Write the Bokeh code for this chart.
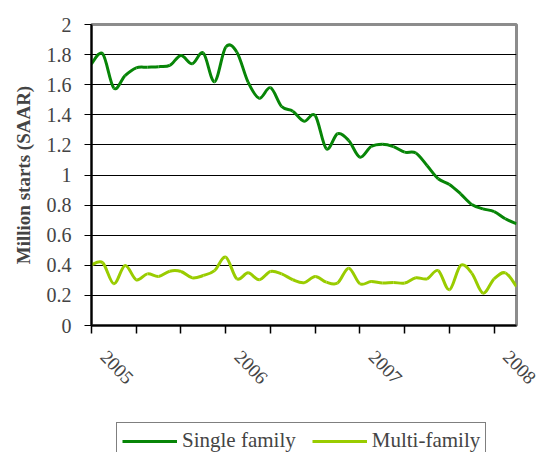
import numpy as np
from bokeh.plotting import figure
from bokeh.layouts import column
from bokeh.models import FixedTicker, Legend, LegendItem, NumeralTickFormatter, LinearAxis
from bokeh.embed import file_html
from bokeh.resources import INLINE

# Monthly index: 0 = Jan 2005 ... 38 = Mar 2008
months = list(range(39))
single_family = [1.739, 1.805, 1.577, 1.66, 1.712, 1.716, 1.72, 1.728, 1.794, 1.739,
                 1.81, 1.62, 1.85, 1.816, 1.617, 1.51, 1.58, 1.455, 1.424, 1.357,
                 1.395, 1.174, 1.274, 1.229, 1.118, 1.189, 1.205, 1.189, 1.152, 1.146,
                 1.063, 0.975, 0.937, 0.875, 0.804, 0.775, 0.757, 0.709, 0.676]
multi_family = [0.403, 0.417, 0.277, 0.399, 0.304, 0.343, 0.326, 0.361, 0.359, 0.317,
                0.332, 0.365, 0.454, 0.31, 0.35, 0.304, 0.359, 0.343, 0.304, 0.284,
                0.326, 0.288, 0.282, 0.381, 0.277, 0.292, 0.282, 0.286, 0.282, 0.317,
                0.31, 0.365, 0.237, 0.399, 0.348, 0.215, 0.31, 0.35, 0.259]
x_ticks = [0, 4, 8, 12, 16, 20, 24, 28, 32, 36]
year_ticks = [0, 12, 24, 36]
year_labels = ["2005", "2006", "2007", "2008"]
y_ticks = [0, 0.2, 0.4, 0.6, 0.8, 1, 1.2, 1.4, 1.6, 1.8, 2]
series_names = ["Single family", "Multi-family"]
series_colors = ["#078507", "#99cc00"]

LABEL_SHIFT = 1.1  # year labels sit slightly right of their tick (in months)


def smooth_segments(x, y, t=1.0 / 6.0):
    x = np.asarray(x, float)
    y = np.asarray(y, float)
    n = len(x)
    xp = np.concatenate([[x[0]], x, [x[-1]]])
    yp = np.concatenate([[y[0]], y, [y[-1]]])
    cx0 = x[:-1] + (xp[2:n + 1] - xp[0:n - 1]) * t
    cy0 = y[:-1] + (yp[2:n + 1] - yp[0:n - 1]) * t
    cx1 = x[1:] - (xp[3:n + 2] - xp[1:n]) * t
    cy1 = y[1:] - (yp[3:n + 2] - yp[1:n]) * t
    return dict(x0=x[:-1], y0=y[:-1], x1=x[1:], y1=y[1:],
                cx0=cx0, cy0=cy0, cx1=cx1, cy1=cy1)


FONT = "Liberation Serif"

p = figure(width=540, height=422, output_backend="svg", toolbar_location=None, title=None,
           x_range=(0, 38), y_range=(0, 2),
           min_border_left=91, min_border_right=24, min_border_top=24, min_border_bottom=97)

for vals, col in zip([single_family, multi_family], series_colors):
    p.bezier(source=smooth_segments(months, vals), x0="x0", y0="y0", x1="x1", y1="y1",
             cx0="cx0", cy0="cy0", cx1="cx1", cy1="cy1", line_color=col, line_width=3)

p.xgrid.visible = False
p.ygrid.ticker = FixedTicker(ticks=y_ticks)
p.ygrid.grid_line_color = "black"
p.ygrid.grid_line_width = 1

p.outline_line_color = "#8c8c8c"
p.outline_line_width = 3

# y axis
p.yaxis.ticker = FixedTicker(ticks=y_ticks)
p.yaxis.formatter = NumeralTickFormatter(format="0.[0]")
p.yaxis.axis_label = "Million starts (SAAR)"
p.yaxis.axis_label_text_font = FONT
p.yaxis.axis_label_text_font_style = "bold"
p.yaxis.axis_label_text_font_size = "19px"
p.yaxis.axis_label_standoff = 10
p.yaxis.major_label_text_font = FONT
p.yaxis.major_label_text_font_size = "20px"
p.yaxis.major_label_standoff = 13
p.yaxis.major_tick_out = 7
p.yaxis.major_tick_in = 0
p.yaxis.minor_tick_out = 0
p.yaxis.minor_tick_in = 0
p.yaxis.axis_line_width = 2
p.yaxis.axis_line_color = "black"

# x axis: year labels (placed just right of their ticks), no line or ticks of its own
xa = p.xaxis[0]
xa.ticker = FixedTicker(ticks=[t + LABEL_SHIFT for t in year_ticks])
xa.major_label_overrides = {t + LABEL_SHIFT: lab for t, lab in zip(year_ticks, year_labels)}
xa.major_label_orientation = -0.8
xa.major_label_text_font = FONT
xa.major_label_text_font_size = "19px"
xa.major_label_standoff = 20
xa.major_tick_line_color = None
xa.minor_tick_line_color = None
xa.major_tick_out = 0
xa.major_tick_in = 0
xa.minor_tick_out = 0
xa.minor_tick_in = 0
xa.axis_line_color = None

# axis line with ticks every four months, next to the frame
tick_axis = LinearAxis(ticker=FixedTicker(ticks=x_ticks),
                       major_label_text_color=None, major_label_text_font_size="1px",
                       major_label_standoff=0, axis_line_color="black", axis_line_width=2,
                       major_tick_line_color="black", major_tick_line_width=1.5,
                       major_tick_out=8, major_tick_in=0, minor_tick_out=0, minor_tick_in=0,
                       minor_tick_line_color=None)
p.below.insert(0, tick_axis)

# legend strip below the chart
lf = figure(width=540, height=30, output_backend="svg", toolbar_location=None, title=None,
            x_range=(0, 1), y_range=(0, 1), min_border=0, outline_line_color=None)
lf.axis.visible = False
lf.grid.visible = False
items = []
for name, col in zip(series_names, series_colors):
    r = lf.line(x=[np.nan], y=[np.nan], line_color=col, line_width=3)
    items.append(LegendItem(label=name, renderers=[r]))
legend = Legend(items=items, orientation="horizontal", location=(25, -7), margin=0,
                label_text_font=FONT, label_text_font_size="21px",
                glyph_width=55, glyph_height=20, label_standoff=5, spacing=16,
                padding=5, border_line_color="black", border_line_width=1,
                background_fill_alpha=1)
lf.add_layout(legend, "center")

open("out.html", "w").write(file_html(column(p, lf, spacing=0), INLINE))
